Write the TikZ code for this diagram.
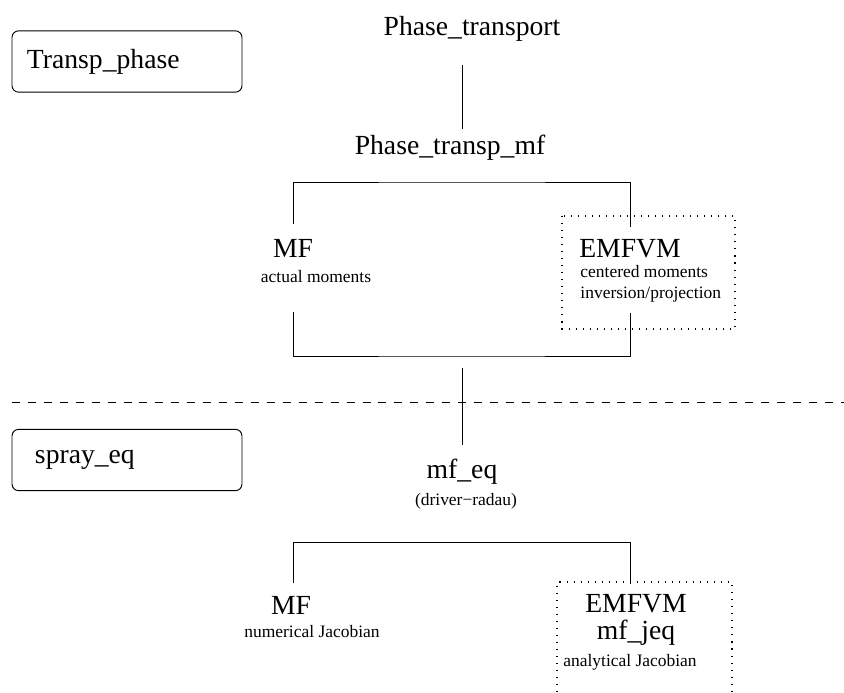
\documentclass[tikz,border=0pt]{standalone}
\usepackage{fontspec}
\setmainfont{Liberation Serif}
\usetikzlibrary{calc}
\begin{document}
\begin{tikzpicture}[x=0.03cm,y=-0.03cm,line width=0.8pt,
  big/.style={font=\fontsize{23.6}{28}\selectfont,inner sep=0pt,anchor=base},
  sm/.style={font=\fontsize{14.9}{17.9}\selectfont,inner sep=0pt,anchor=base},
  lbox/.style={draw,rounded corners=0.2cm,font=\fontsize{23.6}{28}\selectfont,text width=6cm,inner xsep=0.45cm,minimum height=1.84cm,align=left},
  dotline/.style={line width=0.9pt,dash pattern=on 0.9pt off 5.1pt}]
  \useasboundingbox (0,0) rectangle (844,692);
  \node[lbox] (transp) at (127,61.5){Transp\_phase};
  \node[lbox,text width=5.52cm,inner xsep=0.69cm] (spray) at (127,460){spray\_eq};
  \node[big] (ptr) at (472,35){Phase\_transport};
  \node[big] (ptm) at (450,154){Phase\_transp\_mf};
  \node[big] (mf1) at (293,257){MF};
  \node[sm] (mf1n) at (316,282){actual moments};
  \node[big] (emf1) at (630,257){EMFVM};
  \node[sm,anchor=base west] (emf1n) at (580,277){centered moments};
  \node[sm,anchor=base west] (emf1m) at (580,298){inversion/projection};
  \node[big] (mfeq) at (462,478){mf\_eq};
  \node[sm] (radau) at (466,505){(driver−radau)};
  \node[big] (mf2) at (291,614){MF};
  \node[sm] (mf2n) at (312,637){numerical Jacobian};
  \node[big] (emf2) at (636,612){EMFVM};
  \node[big] (mfjeq) at (636,639){mf\_jeq};
  \node[sm] (emf2n) at (630,666){analytical Jacobian};
  \coordinate (fork1) at (462,182);
  \coordinate (fork2) at (462,356);
  \coordinate (fork3) at (462,542);
  \draw ($(ptr.south -| fork1)+(0,24)$) -- ($(ptm.north -| fork1)+(0,-5)$);
  \draw ($(mf1.north)+(0,-14)$) |- (fork1) -| ($(emf1.north)+(0,-11)$);
  \draw ($(mf1.south)+(0,55)$) |- (fork2) -| ($(emf1.south)+(0,55)$);
  \draw ($(fork2)+(0,12)$) -- ($(mfeq.north)+(0,-13)$);
  \draw ($(mf2.north)+(2,-12)$) |- (fork3) -| ($(emf2.north)+(-6,-9)$);
  \draw[dotline] (562,216) rectangle (735,329);
  \draw[dotline] (557,692) |- (732,582) -- (732,692);
  \draw[dash pattern=on 6.8pt off 6.8pt] (12,402) -- (844,402);
\end{tikzpicture}
\end{document}
